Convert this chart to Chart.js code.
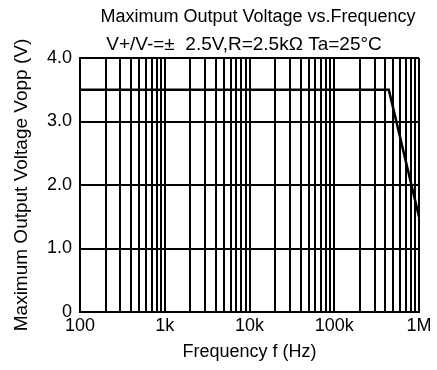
<!DOCTYPE html>
<html>
<head>
<meta charset="utf-8">
<script src="https://cdn.jsdelivr.net/npm/chart.js@4.4.1/dist/chart.umd.min.js"></script>
<style>
  html, body { margin: 0; padding: 0; background: #fff; }
  #wrap { width: 437px; height: 370px; }
</style>
</head>
<body>
<div id="wrap"><canvas id="chart" width="437" height="370"></canvas></div>
<script>
// ======================
// DATA
// ======================
const titleText = "Maximum Output Voltage vs.Frequency";
const subtitleText = "V+/V-=\u00b1  2.5V,R=2.5k\u03a9 Ta=25\u00b0C";

const freqHz = [100, 440000, 1000000];
const voltVpp = [3.5, 3.5, 1.5];

const decadeTicks = [100, 1000, 10000, 100000, 1000000];
const decadeLabels = ["100", "1k", "10k", "100k", "1M"];
const minorSteps = [1, 2, 3, 4, 5, 6, 7, 8, 9];

const voltTicks = [0, 1, 2, 3, 4];
const voltLabels = ["0", "1.0", "2.0", "3.0", "4.0"];

// grid positions: every 1..9 step of each decade, plus the last decade
const freqGrid = [];
decadeTicks.slice(0, -1).forEach(d => minorSteps.forEach(m => freqGrid.push(d * m)));
freqGrid.push(decadeTicks[decadeTicks.length - 1]);

const FONT = "'Liberation Sans', Arial, sans-serif";

// ======================
// TITLES (centred over the plot like the original)
// ======================
const titlePlugin = {
    id: "titles",
    afterDraw(chart) {
        const ctx = chart.ctx;
        ctx.save();
        ctx.fillStyle = "#000";
        ctx.textAlign = "center";
        ctx.textBaseline = "middle";
        ctx.font = "18px " + FONT;
        ctx.fillText(titleText, 258, 17);
        ctx.font = "19px " + FONT;
        ctx.fillText(subtitleText, 244, 45);
        ctx.restore();
    }
};

new Chart(document.getElementById("chart"), {
    type: "line",
    data: {
        datasets: [{
            data: freqHz.map((f, i) => ({ x: f, y: voltVpp[i] })),
            borderColor: "#000",
            borderWidth: 2.5,
            pointRadius: 0,
            tension: 0
        }]
    },
    options: {
        responsive: false,
        animation: false,
        events: [],
        layout: { padding: { top: 58, right: 18, left: 0, bottom: 0 } },
        plugins: { legend: { display: false }, tooltip: { enabled: false } },
        scales: {
            x: {
                type: "logarithmic",
                min: 100,
                max: 1000000,
                afterBuildTicks: s => { s.ticks = freqGrid.map(v => ({ value: v })); },
                afterFit: s => { s.height = 58; },
                grid: { color: "#000", lineWidth: 2, drawTicks: false },
                border: { color: "#000", width: 2 },
                ticks: {
                    autoSkip: false,
                    maxRotation: 0,
                    minRotation: 0,
                    padding: 3,
                    color: "#000",
                    font: { family: FONT, size: 18 },
                    callback: v => {
                        const i = decadeTicks.indexOf(v);
                        return i >= 0 ? decadeLabels[i] : "";
                    }
                },
                title: {
                    display: true,
                    text: "Frequency f (Hz)",
                    color: "#000",
                    font: { family: FONT, size: 18 },
                    padding: { top: 0, bottom: 7 }
                }
            },
            y: {
                min: 0,
                max: 4,
                afterBuildTicks: s => { s.ticks = voltTicks.map(v => ({ value: v })); },
                afterFit: s => { s.width = 80; },
                grid: { color: "#000", lineWidth: 2, drawTicks: false },
                border: { color: "#000", width: 2 },
                ticks: {
                    padding: 8,
                    color: "#000",
                    font: { family: FONT, size: 18 },
                    callback: v => voltLabels[voltTicks.indexOf(v)]
                },
                title: {
                    display: true,
                    text: "Maximum Output Voltage Vopp (V)",
                    color: "#000",
                    font: { family: FONT, size: 19 },
                    padding: { top: 10, bottom: 0 }
                }
            }
        }
    },
    plugins: [titlePlugin]
});
</script>
</body>
</html>
